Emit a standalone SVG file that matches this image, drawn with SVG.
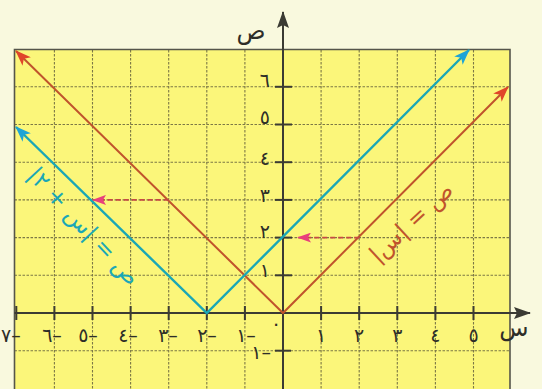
<svg xmlns="http://www.w3.org/2000/svg" width="542" height="389" viewBox="0 0 542 389">
  <defs>
    <style>
      .grid { stroke: #7c7846; stroke-width: 1.1; stroke-dasharray: 2.5 1.5; fill: none; }
      .border { stroke: #55554a; stroke-width: 1.6; fill: none; }
      .axis { stroke: #3b3b33; stroke-width: 2; fill: none; }
      .tick { stroke: #3b3b33; stroke-width: 2; }
      .lbl { font-family: "DejaVu Sans", "Noto Sans", sans-serif; font-size: 19px; fill: #2e2e28; }
      .neg { direction: ltr; unicode-bidi: bidi-override; }
      .axlbl { font-family: "DejaVu Sans", "Noto Sans", sans-serif; font-size: 24px; fill: #2e2e28; }
      .red { stroke: #c0542c; stroke-width: 2; fill: none; }
      .cyan { stroke: #1aa7b6; stroke-width: 2.4; fill: none; }
      .dash { stroke: #c64a44; stroke-width: 1.6; stroke-dasharray: 5 3; fill: none; }
      .eq { font-family: "DejaVu Sans", "Noto Sans", sans-serif; font-size: 23px; }
    </style>
    <marker id="ahRed" viewBox="0 0 16 12" refX="15" refY="6" markerWidth="16" markerHeight="12" markerUnits="userSpaceOnUse" orient="auto-start-reverse">
      <path d="M0,0 L16,6 L0,12 L4,6 Z" fill="#e0462a"/>
    </marker>
    <marker id="ahCyan" viewBox="0 0 16 12" refX="15" refY="6" markerWidth="16" markerHeight="12" markerUnits="userSpaceOnUse" orient="auto-start-reverse">
      <path d="M0,0 L16,6 L0,12 L4,6 Z" fill="#1ea4d6"/>
    </marker>
    <marker id="ahPink" viewBox="0 0 14 10" refX="13" refY="5" markerWidth="14" markerHeight="10" markerUnits="userSpaceOnUse" orient="auto">
      <path d="M0,0 L14,5 L0,10 L3,5 Z" fill="#e8407c"/>
    </marker>
    <marker id="ahAxis" viewBox="0 0 17 12" refX="16" refY="6" markerWidth="17" markerHeight="12" markerUnits="userSpaceOnUse" orient="auto">
      <path d="M0,0 L17,6 L0,12 L3,6 Z" fill="#3b3b33"/>
    </marker>
  </defs>

  <g id="background">
    <rect x="0" y="0" width="542" height="389" fill="#f9f9de"/>
    <rect x="14.5" y="49.5" width="495.5" height="340" fill="#fbf67a"/>
  </g>

  <g id="grid">
    <line class="grid" x1="54.4" y1="50" x2="54.4" y2="389"/>
    <line class="grid" x1="92.5" y1="50" x2="92.5" y2="389"/>
    <line class="grid" x1="130.6" y1="50" x2="130.6" y2="389"/>
    <line class="grid" x1="168.7" y1="50" x2="168.7" y2="389"/>
    <line class="grid" x1="206.8" y1="50" x2="206.8" y2="389"/>
    <line class="grid" x1="244.9" y1="50" x2="244.9" y2="389"/>
    <line class="grid" x1="321.1" y1="50" x2="321.1" y2="389"/>
    <line class="grid" x1="359.2" y1="50" x2="359.2" y2="389"/>
    <line class="grid" x1="397.3" y1="50" x2="397.3" y2="389"/>
    <line class="grid" x1="435.4" y1="50" x2="435.4" y2="389"/>
    <line class="grid" x1="473.5" y1="50" x2="473.5" y2="389"/>
    <line class="grid" x1="14.5" y1="86.8" x2="510" y2="86.8"/>
    <line class="grid" x1="14.5" y1="124.5" x2="510" y2="124.5"/>
    <line class="grid" x1="14.5" y1="162.2" x2="510" y2="162.2"/>
    <line class="grid" x1="14.5" y1="199.9" x2="510" y2="199.9"/>
    <line class="grid" x1="14.5" y1="237.6" x2="510" y2="237.6"/>
    <line class="grid" x1="14.5" y1="275.3" x2="510" y2="275.3"/>
    <line class="grid" x1="14.5" y1="350.7" x2="510" y2="350.7"/>
    <path class="border" d="M14.5,389 V49.5 H510 V389"/>
  </g>

  <g id="axes">
    <line class="axis" x1="283" y1="389" x2="283" y2="12" marker-end="url(#ahAxis)"/>
    <line class="axis" x1="14.5" y1="313" x2="530" y2="313" marker-end="url(#ahAxis)"/>
    <g id="x-ticks">
      <line class="tick" x1="16.3" y1="306" x2="16.3" y2="320"/>
      <line class="tick" x1="54.4" y1="306" x2="54.4" y2="320"/>
      <line class="tick" x1="92.5" y1="306" x2="92.5" y2="320"/>
      <line class="tick" x1="130.6" y1="306" x2="130.6" y2="320"/>
      <line class="tick" x1="168.7" y1="306" x2="168.7" y2="320"/>
      <line class="tick" x1="206.8" y1="306" x2="206.8" y2="320"/>
      <line class="tick" x1="244.9" y1="306" x2="244.9" y2="320"/>
      <line class="tick" x1="321.1" y1="306" x2="321.1" y2="320"/>
      <line class="tick" x1="359.2" y1="306" x2="359.2" y2="320"/>
      <line class="tick" x1="397.3" y1="306" x2="397.3" y2="320"/>
      <line class="tick" x1="435.4" y1="306" x2="435.4" y2="320"/>
      <line class="tick" x1="473.5" y1="306" x2="473.5" y2="320"/>
    </g>
    <g id="y-ticks">
      <line class="tick" x1="275" y1="86.8" x2="292" y2="86.8"/>
      <line class="tick" x1="275" y1="124.5" x2="292" y2="124.5"/>
      <line class="tick" x1="275" y1="162.2" x2="292" y2="162.2"/>
      <line class="tick" x1="275" y1="199.9" x2="292" y2="199.9"/>
      <line class="tick" x1="275" y1="237.6" x2="292" y2="237.6"/>
      <line class="tick" x1="275" y1="275.3" x2="292" y2="275.3"/>
      <line class="tick" x1="275" y1="350.7" x2="291" y2="350.7"/>
    </g>
    <g id="x-labels" class="lbl">
      <text class="neg" x="1" y="342" text-anchor="start">٧–</text>
      <text class="neg" x="52" y="342" text-anchor="middle">٦–</text>
      <text class="neg" x="88" y="342" text-anchor="middle">٥–</text>
      <text class="neg" x="128" y="342" text-anchor="middle">٤–</text>
      <text class="neg" x="168" y="342" text-anchor="middle">٣–</text>
      <text class="neg" x="207" y="342" text-anchor="middle">٢–</text>
      <text class="neg" x="246" y="342" text-anchor="middle">١–</text>
      <text x="276" y="330" text-anchor="middle">٠</text>
      <text x="321.1" y="342" text-anchor="middle">١</text>
      <text x="359.2" y="342" text-anchor="middle">٢</text>
      <text x="397.3" y="342" text-anchor="middle">٣</text>
      <text x="435.4" y="342" text-anchor="middle">٤</text>
      <text x="473.5" y="342" text-anchor="middle">٥</text>
    </g>
    <g id="y-labels" class="lbl">
      <text x="270" y="87" text-anchor="end">٦</text>
      <text x="270" y="124" text-anchor="end">٥</text>
      <text x="270" y="165" text-anchor="end">٤</text>
      <text x="270" y="202" text-anchor="end">٣</text>
      <text x="270" y="238" text-anchor="end">٢</text>
      <text x="270" y="277" text-anchor="end">١</text>
      <text class="neg" x="271" y="359" text-anchor="end">١–</text>
    </g>
    <text class="axlbl" x="251" y="39" text-anchor="middle">ص</text>
    <text class="axlbl" x="514" y="336" text-anchor="middle">س</text>
  </g>

  <g id="connectors">
    <polyline id="curve-abs-x" class="red" points="16,51 283,313 508,87" marker-start="url(#ahRed)" marker-end="url(#ahRed)"/>
    <polyline id="curve-abs-x-plus-2" class="cyan" points="16,127 206.8,313 469,50" marker-start="url(#ahCyan)" marker-end="url(#ahCyan)"/>
    <line id="dash-1" class="dash" x1="168.7" y1="199.9" x2="93" y2="199.9" marker-end="url(#ahPink)"/>
    <line id="dash-2" class="dash" x1="359.2" y1="237.6" x2="298" y2="237.6" marker-end="url(#ahPink)"/>
  </g>

  <g id="labels">
    <text class="eq" fill="#c0542c" direction="rtl" text-anchor="middle" transform="translate(411,222) rotate(-43)" y="8">ص = |س|</text>
    <text class="eq" fill="#1aa7b6" direction="rtl" text-anchor="middle" transform="translate(84,226) rotate(47)" y="8">ص = |س + ٢|</text>
  </g>
</svg>
